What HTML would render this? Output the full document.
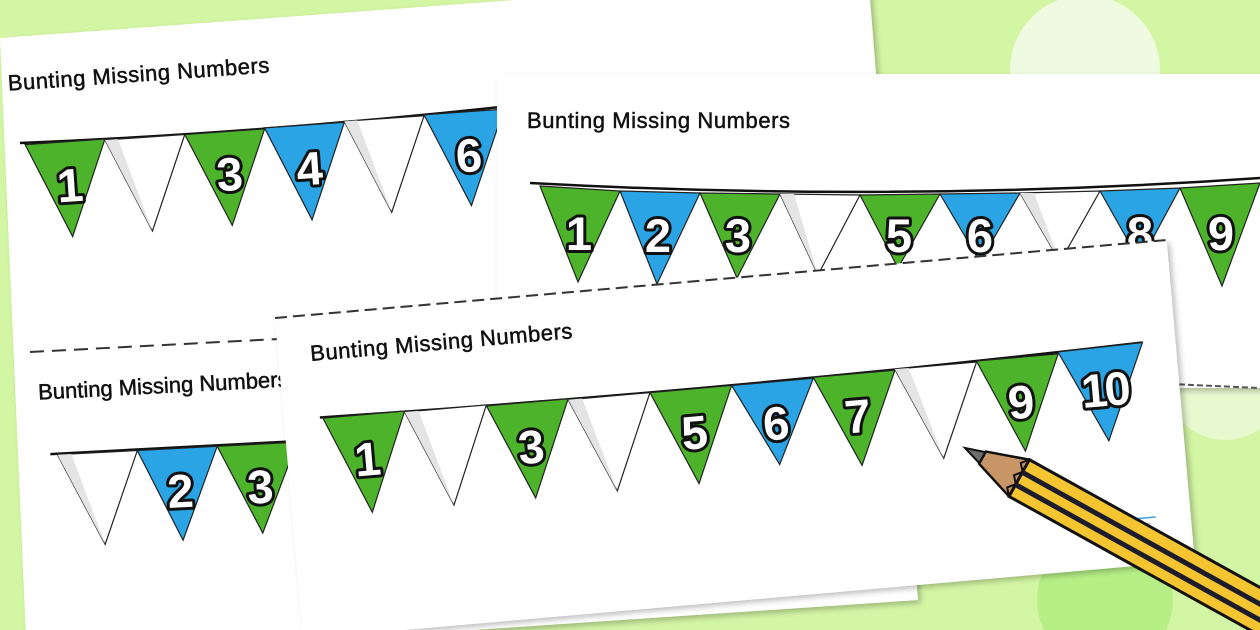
<!DOCTYPE html>
<html><head><meta charset="utf-8"><style>
html,body{margin:0;padding:0;width:1260px;height:630px;overflow:hidden;background:#d3f6a4}
svg{display:block}
.t{font-family:"Liberation Sans",sans-serif;font-size:22px;fill:#111;stroke:#111;stroke-width:0.5}
.n{font-family:"Liberation Sans",sans-serif;font-weight:bold;font-size:47px;fill:#fff;stroke:#111;stroke-width:6;paint-order:stroke;text-anchor:middle;stroke-linejoin:round}
</style></head><body>
<svg width="1260" height="630" viewBox="0 0 1260 630" xmlns="http://www.w3.org/2000/svg">
<defs>
<filter id="sh" x="-10%" y="-10%" width="120%" height="120%"><feDropShadow dx="3" dy="3" stdDeviation="3" flood-color="#000" flood-opacity="0.25"/></filter>
</defs>
<rect width="1260" height="630" fill="#d3f6a4"/>
<circle cx="1085" cy="70" r="75" fill="#effbe0"/>
<circle cx="1225" cy="380" r="60" fill="#e6f9cf"/>
<circle cx="1105" cy="600" r="68" fill="#b6ef86"/>

<!-- Sheet 1 -->
<polygon points="0,38 868,-26 918,600 27,660" fill="#fff" filter="url(#sh)"/>
<g transform="rotate(-4 20 143)">
  <text class="t" x="12" y="90" textLength="262">Bunting Missing Numbers</text>
  <path d="M20,143 Q260,150 520,140" stroke="#111" stroke-width="2.5" fill="none"/>
  <polygon points="25,145 105,145 66,240" fill="#4cb32a" stroke="#222" stroke-width="1.2"/>
  <text class="n" x="67" y="205">1</text>
  <polygon points="105,146 185,146 146,240" fill="#fff" stroke="#222" stroke-width="1.2"/>
  <polygon points="105,146 118,146 146,240" fill="#e4e4e4"/>
  <polygon points="185,146 265,146 226,240" fill="#4cb32a" stroke="#222" stroke-width="1.2"/>
  <text class="n" x="227" y="205">3</text>
  <polygon points="265,145 345,145 306,240" fill="#2aa4e4" stroke="#222" stroke-width="1.2"/>
  <text class="n" x="307" y="205">4</text>
  <polygon points="345,144 425,144 386,238" fill="#fff" stroke="#222" stroke-width="1.2"/>
  <polygon points="345,144 358,144 386,238" fill="#e4e4e4"/>
  <polygon points="425,143 505,143 466,237" fill="#2aa4e4" stroke="#222" stroke-width="1.2"/>
  <text class="n" x="467" y="203">6</text>
</g>
<g transform="rotate(-3 30 352)">
  <line x1="30" y1="352" x2="290" y2="352" stroke="#333" stroke-width="2" stroke-dasharray="14,8"/>
  <text class="t" x="36" y="400">Bunting Missing Numbers</text>
  <path d="M45,455 L300,455" stroke="#111" stroke-width="2.5" fill="none"/>
  <polygon points="52,456 132,456 95,548" fill="#fff" stroke="#222" stroke-width="1.2"/>
  <polygon points="52,456 66,456 95,548" fill="#e4e4e4"/>
  <polygon points="132,456 212,456 173,548" fill="#2aa4e4" stroke="#222" stroke-width="1.2"/>
  <text class="n" x="173" y="515">2</text>
  <polygon points="212,456 292,456 253,545" fill="#4cb32a" stroke="#222" stroke-width="1.2"/>
  <text class="n" x="253" y="515">3</text>
</g>

<!-- Sheet 2 -->
<polygon points="497,74 1275,74 1275,388 497,388" fill="#fff" filter="url(#sh)"/>
<line x1="1170" y1="384" x2="1260" y2="388" stroke="#555" stroke-width="2" stroke-dasharray="6,3"/>
<text class="t" x="527" y="128" textLength="263">Bunting Missing Numbers</text>
<path d="M530,183 Q900,203 1260,178" stroke="#111" stroke-width="2.5" fill="none"/>
<g>
  <polygon points="540,186 620,191 578,282" fill="#4cb32a" stroke="#222" stroke-width="1.2"/>
  <text class="n" x="579" y="250">1</text>
  <polygon points="620,191 700,193 657,284" fill="#2aa4e4" stroke="#222" stroke-width="1.2"/>
  <text class="n" x="658" y="252">2</text>
  <polygon points="700,193 780,194 737,278" fill="#4cb32a" stroke="#222" stroke-width="1.2"/>
  <text class="n" x="738" y="252">3</text>
  <polygon points="780,194 860,195 818,275" fill="#fff" stroke="#222" stroke-width="1.2"/>
  <polygon points="780,194 794,194 818,275" fill="#e4e4e4"/>
  <polygon points="860,195 940,194 898,268" fill="#4cb32a" stroke="#222" stroke-width="1.2"/>
  <text class="n" x="899" y="252">5</text>
  <polygon points="940,194 1020,193 980,262" fill="#2aa4e4" stroke="#222" stroke-width="1.2"/>
  <text class="n" x="980" y="252">6</text>
  <polygon points="1020,193 1100,191 1060,262" fill="#fff" stroke="#222" stroke-width="1.2"/>
  <polygon points="1020,193 1034,193 1060,262" fill="#e4e4e4"/>
  <polygon points="1100,191 1180,188 1140,262" fill="#2aa4e4" stroke="#222" stroke-width="1.2"/>
  <text class="n" x="1140" y="250">8</text>
  <polygon points="1180,188 1260,183 1222,286" fill="#4cb32a" stroke="#222" stroke-width="1.2"/>
  <text class="n" x="1221" y="250">9</text>
</g>

<!-- Sheet 3 -->
<g transform="translate(275,318) rotate(-5)">
  <rect x="0" y="0" width="895" height="322" fill="#fff" filter="url(#sh)"/>
  <line x1="0" y1="0" x2="895" y2="0" stroke="#333" stroke-width="2" stroke-dasharray="12,6"/>
  <text class="t" x="32" y="46" textLength="263">Bunting Missing Numbers</text>
  <path d="M36,103 Q450,112 862,100" stroke="#111" stroke-width="2.5" fill="none"/>
  <g>
    <polygon points="39,104 121,104 80,202" fill="#4cb32a" stroke="#222" stroke-width="1.2"/>
    <text class="n" x="80" y="165">1</text>
    <polygon points="121,105 203,105 162,202" fill="#fff" stroke="#222" stroke-width="1.2"/>
    <polygon points="121,105 135,105 162,202" fill="#e4e4e4"/>
    <polygon points="203,106 285,106 244,202" fill="#4cb32a" stroke="#222" stroke-width="1.2"/>
    <text class="n" x="244" y="167">3</text>
    <polygon points="285,107 367,107 326,202" fill="#fff" stroke="#222" stroke-width="1.2"/>
    <polygon points="285,107 299,107 326,202" fill="#e4e4e4"/>
    <polygon points="367,107 449,107 408,202" fill="#4cb32a" stroke="#222" stroke-width="1.2"/>
    <text class="n" x="408" y="167">5</text>
    <polygon points="449,107 531,107 490,190" fill="#2aa4e4" stroke="#222" stroke-width="1.2"/>
    <text class="n" x="490" y="165">6</text>
    <polygon points="531,106 613,106 572,198" fill="#4cb32a" stroke="#222" stroke-width="1.2"/>
    <text class="n" x="572" y="165">7</text>
    <polygon points="613,105 695,105 654,198" fill="#fff" stroke="#222" stroke-width="1.2"/>
    <polygon points="613,105 627,105 654,198" fill="#e4e4e4"/>
    <polygon points="695,104 777,104 736,198" fill="#4cb32a" stroke="#222" stroke-width="1.2"/>
    <text class="n" x="736" y="165">9</text>
    <polygon points="777,102 862,100 820,195" fill="#2aa4e4" stroke="#222" stroke-width="1.2"/>
    <text class="n" x="820" y="160" style="letter-spacing:-3px">10</text>
  </g>
  <line x1="810" y1="275" x2="860" y2="275" stroke="#3aa0e0" stroke-width="1.5"/>
  <line x1="820" y1="281" x2="855" y2="281" stroke="#bbb" stroke-width="1"/>
</g>

<!-- Pencil -->
<g transform="translate(965,448) rotate(29)">
  <polygon points="0,0 22,-7 22,7" fill="#6d6d6d" stroke="#111" stroke-width="2"/>
  <polygon points="20,-7 62,-21 62,21 20,7" fill="#c89567" stroke="#111" stroke-width="2.5"/>
  <path d="M62,-21 l-6,7 6,7 -6,7 6,7 -6,7 6,7" fill="none" stroke="#111" stroke-width="2"/>
  <rect x="62" y="-21" width="400" height="42" fill="#f4c531" stroke="#111" stroke-width="3"/>
  <rect x="62" y="-9" width="400" height="5" fill="#1c1c2a"/>
  <rect x="62" y="5" width="400" height="5" fill="#1c1c2a"/>
</g>
</svg>
</body></html>
